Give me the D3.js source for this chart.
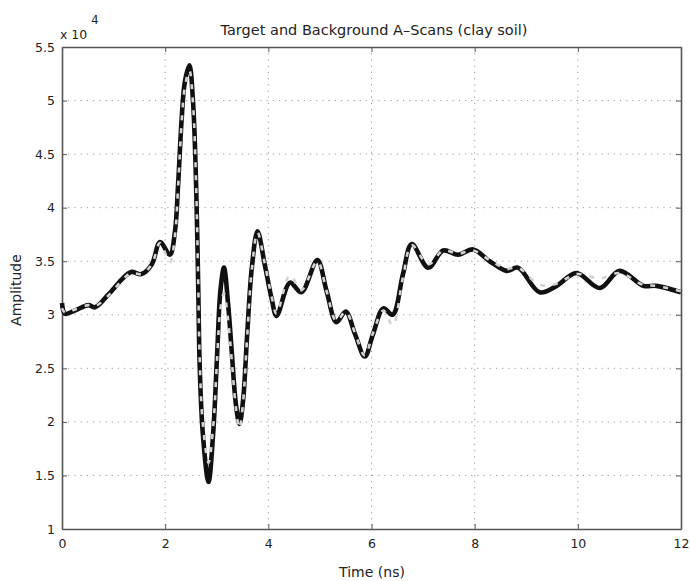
<!DOCTYPE html>
<html>
<head>
<meta charset="utf-8">
<script src="https://cdn.jsdelivr.net/npm/d3@7"></script>
<style>
  body { margin: 0; background: #fff; }
  text { font-family: "DejaVu Sans", sans-serif; fill: #222; }
</style>
</head>
<body>
<div id="chart"></div>
<script>
const WIDTH = 690;
const HEIGHT = 581;
const margin = { top: 47, right: 9, bottom: 52, left: 62 };
const width = WIDTH - margin.left - margin.right;
const height = HEIGHT - margin.top - margin.bottom;

// time samples (ns), amplitudes in units of 1e4
const TIME = [0, 0.06, 0.25, 0.51, 0.64, 0.9, 1.16, 1.34, 1.54, 1.74, 1.9, 2.09, 2.19, 2.25,
  2.32, 2.38, 2.47, 2.54, 2.6, 2.64, 2.67, 2.73, 2.84, 2.93, 3.01, 3.07, 3.14, 3.22, 3.29,
  3.37, 3.44, 3.51, 3.59, 3.68, 3.79, 3.93, 4.06, 4.16, 4.42, 4.64, 4.95, 5.13, 5.32, 5.5,
  5.68, 5.87, 6.03, 6.23, 6.41, 6.61, 6.78, 7.1, 7.39, 7.68, 7.97, 8.29, 8.62, 8.84, 9.26,
  9.59, 9.97, 10.43, 10.81, 11.27, 11.52, 12];
const TARGET = [3.11, 3.01, 3.04, 3.09, 3.07, 3.19, 3.33, 3.40, 3.38, 3.47, 3.68, 3.56, 3.78, 4.21,
  4.83, 5.17, 5.33, 4.99, 4.21, 3.28, 2.51, 1.89, 1.44, 1.89, 2.66, 3.22, 3.44, 3.10, 2.66,
  2.17, 1.98, 2.20, 2.82, 3.44, 3.78, 3.47, 3.16, 2.99, 3.30, 3.21, 3.51, 3.22, 2.93, 3.03,
  2.82, 2.61, 2.82, 3.06, 3.00, 3.38, 3.66, 3.44, 3.60, 3.56, 3.61, 3.50, 3.41, 3.44, 3.21,
  3.27, 3.39, 3.25, 3.41, 3.27, 3.27, 3.21];
const BACKGROUND = [3.06, 3.02, 3.05, 3.09, 3.08, 3.18, 3.32, 3.39, 3.38, 3.47, 3.67, 3.49, 3.74, 4.19,
  4.80, 5.12, 5.28, 4.97, 4.22, 3.32, 2.58, 1.98, 1.62, 1.95, 2.62, 3.05, 3.20, 2.95, 2.58,
  2.14, 1.94, 2.18, 2.80, 3.42, 3.77, 3.48, 3.18, 3.01, 3.37, 3.23, 3.50, 3.22, 2.94, 3.03,
  2.83, 2.62, 2.83, 3.04, 2.90, 3.35, 3.65, 3.47, 3.60, 3.57, 3.60, 3.51, 3.43, 3.44, 3.28,
  3.29, 3.38, 3.34, 3.39, 3.28, 3.27, 3.22];

const X_TICKS = [0, 2, 4, 6, 8, 10, 12];
const Y_TICKS = [1, 1.5, 2, 2.5, 3, 3.5, 4, 4.5, 5, 5.5];

const svg = d3.select('#chart').append('svg')
  .attr('width', WIDTH)
  .attr('height', HEIGHT);

const g = svg.append('g')
  .attr('transform', `translate(${margin.left},${margin.top})`);

const x = d3.scaleLinear().domain([0, 12]).range([0, width]);
const y = d3.scaleLinear().domain([1, 5.5]).range([height, 0]);

// dotted grid
g.append('g').selectAll('line')
  .data(X_TICKS.slice(1, -1))
  .enter().append('line')
  .attr('x1', d => x(d)).attr('x2', d => x(d))
  .attr('y1', 0).attr('y2', height)
  .attr('stroke', '#999').attr('stroke-width', 1)
  .attr('stroke-dasharray', '1.2,5');

g.append('g').selectAll('line')
  .data(Y_TICKS.slice(1, -1))
  .enter().append('line')
  .attr('x1', 0).attr('x2', width)
  .attr('y1', d => y(d)).attr('y2', d => y(d))
  .attr('stroke', '#999').attr('stroke-width', 1)
  .attr('stroke-dasharray', '1.2,5');

// axes with inward ticks, matlab style box
const fmt = d => d3.format('')(d);
const axisStyle = sel => {
  sel.select('.domain').attr('stroke', '#555').attr('stroke-width', 1.6);
  sel.selectAll('.tick line').attr('stroke', '#555');
  sel.selectAll('.tick text').style('font-size', '12.5px').attr('fill', '#222');
};

g.append('g')
  .attr('transform', `translate(0,${height})`)
  .call(d3.axisBottom(x).tickValues(X_TICKS).tickFormat(fmt).tickSizeInner(-5).tickSizeOuter(0).tickPadding(10))
  .call(axisStyle);

g.append('g')
  .call(d3.axisTop(x).tickValues(X_TICKS).tickSizeInner(-5).tickSizeOuter(0).tickFormat(''))
  .call(axisStyle);

g.append('g')
  .call(d3.axisLeft(y).tickValues(Y_TICKS).tickFormat(fmt).tickSizeInner(-5).tickSizeOuter(0).tickPadding(7))
  .call(axisStyle);

g.append('g')
  .attr('transform', `translate(${width},0)`)
  .call(d3.axisRight(y).tickValues(Y_TICKS).tickSizeInner(-5).tickSizeOuter(0).tickFormat(''))
  .call(axisStyle);

// the two a-scans
const line = d3.line()
  .x((d, i) => x(TIME[i]))
  .y(d => y(d))
  .curve(d3.curveCatmullRom.alpha(0.5));

g.append('path')
  .datum(TARGET)
  .attr('fill', 'none')
  .attr('stroke', '#111')
  .attr('stroke-width', 4.6)
  .attr('stroke-linejoin', 'round')
  .attr('d', line);

g.append('path')
  .datum(BACKGROUND)
  .attr('fill', 'none')
  .attr('stroke', '#d2d2d2')
  .attr('stroke-width', 2.6)
  .attr('stroke-dasharray', '5,8')
  .attr('d', line);

// labels
svg.append('text')
  .attr('x', 374).attr('y', 35)
  .attr('text-anchor', 'middle')
  .style('font-size', '14.5px')
  .text('Target and Background A–Scans (clay soil)');

svg.append('text')
  .attr('x', 372).attr('y', 577)
  .attr('text-anchor', 'middle')
  .style('font-size', '14px')
  .text('Time (ns)');

svg.append('text')
  .attr('transform', 'translate(21,290) rotate(-90)')
  .attr('text-anchor', 'middle')
  .style('font-size', '14px')
  .text('Amplitude');

const mult = svg.append('text')
  .attr('x', 60).attr('y', 39)
  .style('font-size', '12.5px');
mult.append('tspan').text('x 10');
mult.append('tspan').attr('dx', 4).attr('dy', -15).style('font-size', '11.5px').text('4');
</script>
</body>
</html>
